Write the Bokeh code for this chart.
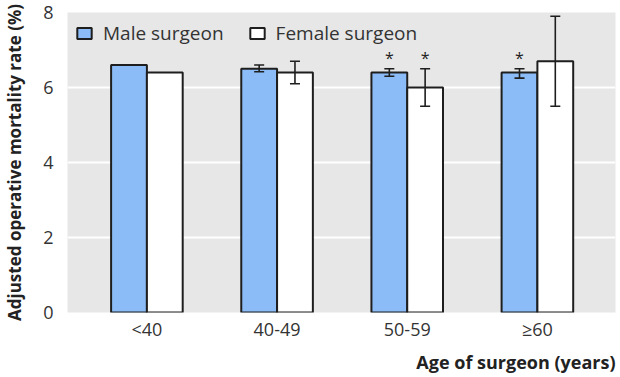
from bokeh.plotting import figure
from bokeh.models import ColumnDataSource, Range1d, FixedTicker, Whisker, TeeHead, Title
from bokeh.core.properties import value
from bokeh.embed import file_html
from bokeh.resources import INLINE

groups = ["<40", "40-49", "50-59", "≥60"]
male_rate = [6.6, 6.5, 6.4, 6.4]
female_rate = [6.4, 6.4, 6.0, 6.7]
male_lower = [None, 6.42, 6.3, 6.25]
male_upper = [None, 6.6, 6.5, 6.5]
female_lower = [None, 6.1, 5.5, 5.5]
female_upper = [None, 6.7, 6.5, 7.9]
male_sig = [False, False, True, True]
female_sig = [False, False, True, False]
y_ticks = [0, 2, 4, 6, 8]

FONT = "Open Sans"
BLUE = "#8bbcf8"
EDGE = "#1e1e1e"
BAR_W = 0.275
OFF = BAR_W / 2

idx = list(range(len(groups)))
male_x = [i - OFF for i in idx]
female_x = [i + OFF for i in idx]

p = figure(width=620, height=377, output_backend="svg", toolbar_location=None,
           x_range=Range1d(-0.61, 3.60), y_range=Range1d(0, 8),
           min_border_left=63, min_border_right=5, min_border_top=12, min_border_bottom=64)
p.outline_line_color = None
p.background_fill_color = "#e7e7e7"
p.border_fill_color = "white"

p.vbar(x=male_x, top=male_rate, width=BAR_W, fill_color=BLUE, line_color=EDGE,
       line_width=2, legend_label="Male surgeon")
p.vbar(x=female_x, top=female_rate, width=BAR_W, fill_color="white", line_color=EDGE,
       line_width=2, legend_label="Female surgeon")

def add_err(xs, lo, hi):
    sx, sl, sh = [], [], []
    for x, l, h in zip(xs, lo, hi):
        if l is not None:
            sx.append(x); sl.append(l); sh.append(h)
    src = ColumnDataSource(dict(x=sx, lo=sl, hi=sh))
    w = Whisker(base="x", lower="lo", upper="hi", source=src, line_color=EDGE, line_width=1.6,
                upper_head=TeeHead(size=10, line_color=EDGE, line_width=1.6),
                lower_head=TeeHead(size=10, line_color=EDGE, line_width=1.6),
                level="overlay")
    p.add_layout(w)

add_err(male_x, male_lower, male_upper)
add_err(female_x, female_lower, female_upper)

sx, sy = [], []
for xs, sig, hi in ((male_x, male_sig, male_upper), (female_x, female_sig, female_upper)):
    for x, s, h in zip(xs, sig, hi):
        if s:
            sx.append(x); sy.append(h + 0.3)
p.text(x=sx, y=sy, text=["*"] * len(sx), text_align="center", text_baseline="middle",
       text_font=value(FONT), text_font_size="16px", text_color=EDGE)

# axes
p.xaxis.ticker = FixedTicker(ticks=idx)
p.xaxis.major_label_overrides = {i: g for i, g in enumerate(groups)}
p.yaxis.ticker = FixedTicker(ticks=y_ticks)
for ax in (p.xaxis[0], p.yaxis[0]):
    ax.axis_line_color = None
    ax.major_tick_line_color = None
    ax.minor_tick_line_color = None
    ax.major_label_text_font = FONT
    ax.major_label_text_font_size = "18px"
    ax.major_label_text_color = "#333333"
    ax.axis_label_text_font = FONT
    ax.axis_label_text_font_style = "bold"
    ax.axis_label_text_color = "#222222"
p.xaxis.major_label_standoff = -2
p.yaxis.major_label_standoff = 8
p.yaxis.axis_label = "Adjusted operative mortality rate (%)"
p.yaxis.axis_label_text_font_size = "17px"
p.yaxis.axis_label_standoff = 14

p.add_layout(Title(text="Age of surgeon (years)", align="right", text_font=FONT,
                   text_font_style="bold", text_font_size="18px", text_color="#222222",
                   standoff=8), "below")

p.xgrid.grid_line_color = None
p.ygrid.grid_line_color = "white"
p.ygrid.grid_line_width = 2

lg = p.legend[0]
lg.orientation = "horizontal"
lg.location = "top_left"
lg.background_fill_alpha = 0
lg.border_line_color = None
lg.margin = 8
lg.padding = 5
lg.spacing = 24
lg.label_standoff = 10
lg.glyph_width = 18
lg.glyph_height = 14
lg.label_text_font = FONT
lg.label_text_font_size = "19px"
lg.label_text_color = "#333333"

open("out.html", "w").write(file_html(p, INLINE))
